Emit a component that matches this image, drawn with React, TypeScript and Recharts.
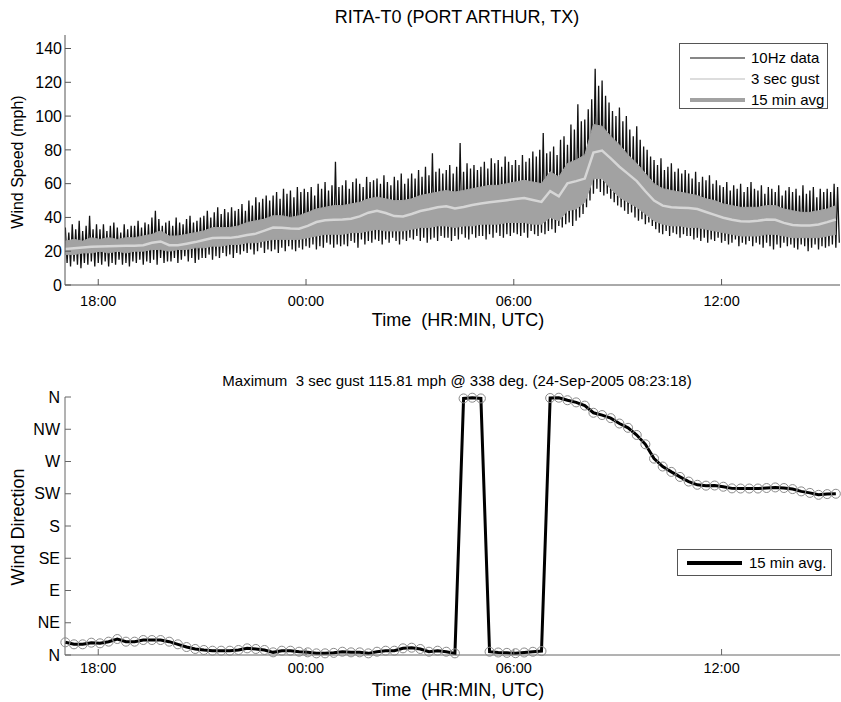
import { ComposedChart, Line, Area, XAxis, YAxis } from 'recharts';

const FONT = 'Arial, "Liberation Sans", Helvetica, sans-serif';

// time axis: hours after 18:00 UTC, 23-Sep-2005
const X_DOMAIN: [number, number] = [-0.96, 21.42];
const HOUR_TICKS = [0, 6, 12, 18];
const hourLabel = (h: number) => `${String((18 + h) % 24).padStart(2, '0')}:00`;

// 10Hz trace, decimated to one sample every 3 min starting 17:03
const HZ_START = -0.95;
const HZ_STEP = 0.05;
const hz10 = [
  34, 13, 31, 11, 36, 14, 33, 12, 38, 10, 32, 13, 35, 12, 41, 14, 33, 11, 36, 13,
  33, 12, 36, 14, 32, 11, 35, 13, 37, 12, 34, 15, 31, 12, 36, 13, 33, 11, 35, 14,
  35, 13, 38, 15, 34, 12, 37, 14, 36, 13, 40, 15, 44, 12, 39, 16, 35, 13, 37, 14,
  38, 14, 35, 16, 40, 13, 37, 15, 36, 17, 39, 14, 41, 16, 37, 13, 38, 15, 40, 16,
  41, 16, 44, 18, 40, 15, 43, 17, 46, 16, 42, 19, 45, 17, 43, 18, 46, 16, 44, 19,
  45, 18, 48, 20, 44, 19, 50, 21, 47, 18, 52, 20, 49, 22, 51, 19, 53, 21, 50, 20,
  53, 21, 55, 19, 51, 22, 57, 20, 54, 23, 56, 21, 52, 20, 58, 22, 55, 21, 57, 23,
  55, 22, 58, 24, 53, 21, 60, 23, 57, 22, 61, 25, 56, 24, 59, 22, 73, 24, 58, 23,
  59, 24, 62, 23, 57, 26, 61, 25, 63, 22, 60, 27, 58, 24, 64, 26, 61, 25, 62, 27,
  63, 26, 60, 24, 65, 27, 61, 25, 59, 28, 64, 26, 62, 24, 66, 27, 60, 26, 63, 28,
  66, 27, 63, 29, 68, 26, 64, 28, 70, 25, 65, 27, 78, 28, 67, 26, 69, 29, 66, 28,
  68, 28, 71, 26, 66, 29, 70, 27, 84, 30, 67, 28, 72, 27, 69, 30, 71, 28, 68, 29,
  70, 29, 73, 27, 69, 30, 75, 28, 72, 31, 74, 29, 70, 28, 76, 30, 73, 29, 71, 31,
  74, 30, 71, 29, 77, 31, 73, 28, 75, 32, 79, 30, 76, 29, 80, 31, 90, 30, 78, 32,
  79, 33, 82, 31, 77, 35, 86, 34, 88, 36, 83, 37, 95, 35, 92, 38, 107, 40, 97, 42,
  98, 46, 104, 50, 110, 54, 128, 57, 118, 55, 121, 53, 112, 54, 108, 51, 103, 49, 100, 47,
  105, 46, 97, 44, 100, 42, 92, 43, 88, 40, 94, 38, 86, 39, 82, 36, 80, 37, 76, 35,
  74, 33, 71, 31, 75, 30, 68, 32, 70, 29, 72, 31, 67, 30, 69, 28, 66, 30, 68, 29,
  66, 29, 63, 27, 67, 28, 61, 26, 64, 28, 62, 25, 65, 27, 60, 26, 62, 28, 59, 25,
  58, 26, 61, 24, 56, 25, 59, 27, 57, 23, 60, 25, 55, 24, 58, 26, 61, 23, 57, 25,
  56, 24, 59, 22, 54, 25, 58, 23, 57, 21, 55, 24, 59, 22, 53, 25, 56, 23, 58, 24,
  55, 22, 57, 21, 53, 24, 59, 23, 54, 20, 56, 22, 58, 24, 52, 21, 57, 23, 55, 22,
  57, 23, 55, 24, 60, 22, 58, 25,
];

// 15 min blocks starting 17:03
const AVG_START = -0.95;
const AVG_STEP = 0.25;
const gustHigh = [
  26, 27, 26, 28, 27, 28, 27, 28, 28, 29,
  30, 32, 29, 29, 30, 31, 32, 34, 34, 34,
  35, 37, 38, 39, 41, 41, 40, 41, 43, 45,
  46, 47, 47, 48, 49, 51, 52, 51, 50, 50,
  51, 53, 54, 55, 56, 55, 56, 57, 58, 59,
  59, 60, 61, 62, 61, 60, 67, 64, 72, 74,
  77, 95, 94, 88, 83, 77, 72, 66, 60, 57,
  56, 55, 54, 53, 51, 50, 48, 47, 46, 46,
  46, 47, 47, 45, 44, 43, 43, 44, 45, 47,
];
const gustLow = [
  18, 18, 19, 19, 20, 19, 20, 19, 20, 20,
  21, 21, 20, 21, 21, 22, 22, 23, 23, 24,
  24, 25, 25, 26, 27, 27, 27, 27, 28, 29,
  30, 30, 30, 31, 31, 32, 33, 32, 32, 32,
  33, 34, 34, 35, 35, 34, 35, 35, 36, 36,
  36, 37, 37, 37, 36, 36, 40, 38, 44, 45,
  49, 63, 63, 57, 52, 49, 46, 42, 38, 36,
  35, 35, 34, 34, 33, 32, 31, 30, 29, 29,
  29, 30, 30, 29, 28, 28, 28, 28, 29, 30,
];
const avg15 = [
  21.3, 21.8, 22.2, 22.6, 22.8, 23.0, 23.1, 23.2, 23.3, 23.6,
  25.0, 25.8, 23.6, 23.5, 24.4, 25.4, 26.6, 27.8, 28.0, 27.9,
  28.6, 29.6, 30.4, 32.2, 34.0, 33.9, 33.4, 33.3, 35.0, 37.3,
  38.3, 38.6, 38.8, 39.2, 40.6, 42.8, 44.0, 42.6, 40.8, 40.6,
  42.0, 43.8, 44.8, 46.0, 46.6, 45.3, 46.2, 47.4, 48.2, 49.0,
  49.6, 50.2, 50.9, 51.5, 50.3, 49.2, 55.6, 52.5, 60.2, 61.5,
  63.0, 78.4, 79.6, 75.0, 70.0, 65.8, 61.5, 55.5, 50.0, 47.0,
  46.0, 45.8, 45.6, 45.0, 43.2, 41.5, 39.8, 38.6, 37.8, 37.6,
  38.0, 38.8, 38.6, 36.8, 35.5, 35.2, 35.2, 35.8, 37.2, 38.8,
];

// 15 min mean direction, degrees
const dir15 = [
  17.7, 14.9, 14.9, 17.2, 16.3, 18.6, 22.3, 18.6, 18.6, 20.9,
  20.9, 20.9, 18.6, 14.9, 11.1, 8.4, 7.0, 6.0, 6.0, 6.0,
  7.0, 9.3, 8.4, 7.0, 3.7, 6.0, 6.0, 4.6, 3.7, 2.3,
  2.3, 3.0, 4.6, 3.7, 3.7, 2.3, 4.6, 6.0, 6.0, 9.3,
  10.2, 8.4, 4.6, 6.0, 4.6, 2.3, 358, 359, 358, 4.6,
  3.5, 3.0, 2.5, 3.5, 4.5, 5.5, 358.6, 359, 355.5, 352.5,
  348, 338, 334.8, 330.5, 323, 317, 307, 294, 274, 263,
  255.5, 248.5, 242, 237.5, 236.3, 236.5, 234.8, 232.5, 232.3, 232.3,
  232.3, 233, 233.8, 233, 231.5, 228.3, 226.2, 223.5, 224.5, 225,
];

const SPEED_TICKS = [0, 20, 40, 60, 80, 100, 120, 140];
const DIR_TICKS = [0, 45, 90, 135, 180, 225, 270, 315, 360];
const DIR_LABELS = ['N', 'NE', 'E', 'SE', 'S', 'SW', 'W', 'NW', 'N'];

const hzRows = hz10.map((v, i) => ({ t: HZ_START + i * HZ_STEP, v }));
const avgRows = avg15.map((v, i) => ({
  t: AVG_START + i * AVG_STEP,
  avg: v,
  gust: [gustLow[i], gustHigh[i]],
}));
const dirRows = dir15.map((d, i) => ({ t: AVG_START + i * AVG_STEP, dir: d }));

const AXIS = '#555';
const GUST = '#a2a2a2';
const xTick = { fill: '#000', fontSize: 14.5, fontFamily: FONT };
const yTick = { fill: '#000', fontSize: 16, fontFamily: FONT };

const textStyle = (left: number, top: number, size: number, rotate = false): React.CSSProperties => ({
  position: 'absolute',
  left,
  top,
  fontSize: size,
  fontFamily: FONT,
  whiteSpace: 'pre',
  color: '#000',
  transform: `translate(-50%, -50%)${rotate ? ' rotate(-90deg)' : ''}`,
  lineHeight: 1,
});

function LegendRow({ color, width, label }: { color: string; width: number; label: string }) {
  return (
    <div style={{ display: 'flex', alignItems: 'center', height: 21 }}>
      <svg width={66} height={10} style={{ marginLeft: 10 }}>
        <line x1={0} x2={55} y1={5} y2={5} stroke={color} strokeWidth={width} />
      </svg>
      <span style={{ fontSize: 15, fontFamily: FONT, marginLeft: -5 }}>{label}</span>
    </div>
  );
}

export default function App() {
  return (
    <div style={{ position: 'absolute', left: 0, top: 0, width: 841, height: 702, background: '#fff' }}>
      <div style={textStyle(457, 17, 18)}>RITA-T0 (PORT ARTHUR, TX)</div>
      <div style={textStyle(18, 162, 16, true)}>Wind Speed (mph)</div>
      <div style={textStyle(458, 320, 18)}>Time  (HR:MIN, UTC)</div>

      <div style={{ position: 'absolute', left: 0, top: 0 }}>
        <ComposedChart width={841} height={340} margin={{ top: 35, right: 1, bottom: 0, left: 0 }}>
          <XAxis
            xAxisId="b"
            type="number"
            dataKey="t"
            domain={X_DOMAIN}
            ticks={HOUR_TICKS}
            interval={0}
            tickFormatter={hourLabel}
            height={55}
            tickSize={-6}
            tickMargin={17}
            tick={xTick}
            stroke={AXIS}
            allowDataOverflow
          />
          <XAxis
            xAxisId="top"
            orientation="top"
            type="number"
            domain={X_DOMAIN}
            ticks={HOUR_TICKS}
            interval={0}
            tickFormatter={() => ''}
            height={0}
            tickSize={-6}
            stroke={AXIS}
            allowDataOverflow
          />
          <YAxis
            yAxisId="l"
            type="number"
            domain={[0, 148]}
            ticks={SPEED_TICKS}
            interval={0}
            width={65}
            tickSize={-6}
            tickMargin={9}
            tick={yTick}
            stroke={AXIS}
            allowDataOverflow
          />
          <YAxis yAxisId="r" orientation="right" width={0} tick={false} stroke={AXIS} domain={[0, 148]} />
          {/* raw trace drawn as an unfilled area so the gust band sits above it */}
          <Area
            xAxisId="b"
            yAxisId="l"
            data={hzRows}
            dataKey="v"
            type="linear"
            stroke="#111"
            strokeWidth={1.3}
            fill="none"
            dot={false}
            activeDot={false}
            isAnimationActive={false}
          />
          <Area
            xAxisId="b"
            yAxisId="l"
            data={avgRows}
            dataKey="gust"
            type="linear"
            stroke={GUST}
            strokeWidth={1}
            fill={GUST}
            fillOpacity={1}
            dot={false}
            activeDot={false}
            isAnimationActive={false}
          />
          <Line
            xAxisId="b"
            yAxisId="l"
            data={avgRows}
            dataKey="avg"
            type="linear"
            stroke="#d6d6d6"
            strokeWidth={2.5}
            dot={false}
            activeDot={false}
            isAnimationActive={false}
          />
        </ComposedChart>
      </div>

      <div
        style={{
          position: 'absolute',
          left: 679,
          top: 43,
          width: 149,
          height: 66,
          border: '1px solid #555',
          background: '#fff',
          paddingTop: 3,
          boxSizing: 'border-box',
        }}
      >
        <LegendRow color="#111" width={1.2} label="10Hz data" />
        <LegendRow color="#bbb" width={1.2} label="3 sec gust" />
        <LegendRow color={GUST} width={4} label="15 min avg" />
      </div>

      <div style={textStyle(457, 380, 15)}>Maximum  3 sec gust 115.81 mph @ 338 deg. (24-Sep-2005 08:23:18)</div>
      <div style={textStyle(18, 527, 18, true)}>Wind Direction</div>
      <div style={textStyle(458, 690, 18)}>Time  (HR:MIN, UTC)</div>

      <div style={{ position: 'absolute', left: 0, top: 340 }}>
        <ComposedChart width={841} height={362} data={dirRows} margin={{ top: 57, right: 1, bottom: 0, left: 0 }}>
          <XAxis
            xAxisId="b"
            type="number"
            dataKey="t"
            domain={X_DOMAIN}
            ticks={HOUR_TICKS}
            interval={0}
            tickFormatter={hourLabel}
            height={47}
            tickSize={-6}
            tickMargin={14}
            tick={xTick}
            stroke="#666"
          />
          <XAxis
            xAxisId="top"
            orientation="top"
            type="number"
            domain={X_DOMAIN}
            ticks={HOUR_TICKS}
            interval={0}
            tickFormatter={() => ''}
            height={0}
            tickSize={-6}
            stroke="#888"
          />
          <YAxis
            yAxisId="l"
            type="number"
            domain={[0, 360]}
            ticks={DIR_TICKS}
            interval={0}
            tickFormatter={(v: number) => DIR_LABELS[DIR_TICKS.indexOf(v)]}
            width={65}
            tickSize={-6}
            tickMargin={11}
            tick={yTick}
            stroke="#666"
          />
          <YAxis yAxisId="r" orientation="right" width={0} tick={false} stroke="#888" domain={[0, 360]} />
          <Line
            xAxisId="b"
            yAxisId="l"
            dataKey="dir"
            type="linear"
            stroke="#000"
            strokeWidth={3}
            dot={{ r: 4.5, stroke: '#8a8a8a', strokeWidth: 1, fill: 'none' }}
            activeDot={false}
            isAnimationActive={false}
          />
        </ComposedChart>
      </div>

      <div
        style={{
          position: 'absolute',
          left: 677,
          top: 549,
          width: 155,
          height: 27,
          border: '1px solid #555',
          background: '#fff',
          boxSizing: 'border-box',
          display: 'flex',
          alignItems: 'center',
        }}
      >
        <svg width={66} height={10} style={{ marginLeft: 9 }}>
          <line x1={0} x2={55} y1={5} y2={5} stroke="#000" strokeWidth={4} />
        </svg>
        <span style={{ fontSize: 15, fontFamily: FONT, marginLeft: -4 }}>15 min avg.</span>
      </div>
    </div>
  );
}
